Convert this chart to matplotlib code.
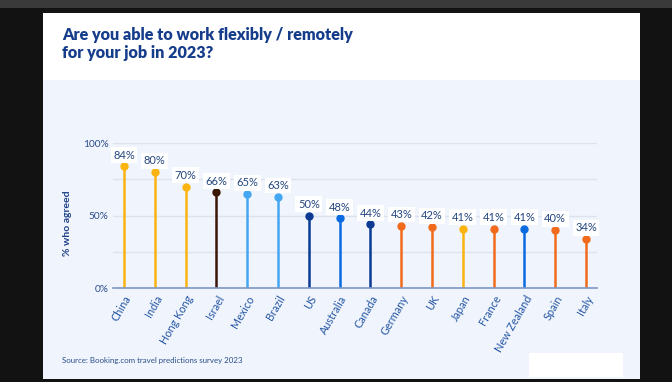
import matplotlib.pyplot as plt
from matplotlib.patches import Rectangle

# Survey share per country (% who agreed)
countries = ["China", "India", "Hong Kong", "Israel", "Mexico", "Brazil", "US",
             "Australia", "Canada", "Germany", "UK", "Japan", "France",
             "New Zealand", "Spain", "Italy"]
agreed = [84, 80, 70, 66, 65, 63, 50, 48, 44, 43, 42, 41, 41, 41, 40, 34]

YELLOW = "#fbb40f"
BROWN = "#3a1606"
LIGHT_BLUE = "#45a7f2"
NAVY = "#0b3a93"
BLUE = "#0a6be0"
ORANGE = "#f26a1b"
stem_colors = [YELLOW, YELLOW, YELLOW, BROWN, LIGHT_BLUE, LIGHT_BLUE, NAVY,
               BLUE, NAVY, ORANGE, ORANGE, YELLOW, ORANGE, BLUE, ORANGE, ORANGE]

y_ticks = [0, 50, 100]
y_tick_labels = ["0%", "50%", "100%"]

plt.rcParams["font.family"] = ["Lato", "DejaVu Sans"]

W, H = 672, 382
fig = plt.figure(figsize=(W / 100, H / 100), dpi=100, facecolor="#121212")


def px_rect(x0, y0, x1, y1, color):
    # rectangle in pixel coords measured from the top-left corner
    fig.patches.append(Rectangle((x0 / W, 1 - y1 / H), (x1 - x0) / W, (y1 - y0) / H,
                                 transform=fig.transFigure, facecolor=color,
                                 edgecolor="none", zorder=-5))


px_rect(0, 0, W, 8, "#3a3a3a")
px_rect(43, 13, 640, 379, "white")
px_rect(43, 80, 640, 379, "#f0f4fc")
px_rect(529, 353, 623, 377, "white")

title_color = "#163d8c"
fig.text(62 / W, 1 - 40 / H, "Are you able to work flexibly / remotely",
         fontsize=11.6, fontweight="heavy", color=title_color, va="baseline")
fig.text(62 / W, 1 - 58 / H, "for your job in 2023?",
         fontsize=11.6, fontweight="heavy", color=title_color, va="baseline")

ax = fig.add_axes([113 / W, 1 - 288 / H, (597 - 113) / W, (288 - 143) / H])
ax.set_zorder(2)
ax.set_facecolor("none")
x = list(range(len(countries)))
ax.set_xlim(-0.357, len(countries) - 1 + 0.357)
ax.set_ylim(0, 100)

for v in [25, 50, 75, 100]:
    ax.axhline(v, color="#dce3ef", lw=1, zorder=1)

for xi, v, c in zip(x, agreed, stem_colors):
    ax.plot([xi, xi], [0, v], color=c, lw=1.8, zorder=2, solid_capstyle="butt")
    ax.plot(xi, v, "o", color=c, ms=5, zorder=3)
    ax.annotate(f"{v}%", (xi, v), xytext=(0, 8), textcoords="offset points",
                ha="center", va="center", fontsize=8, color="#23457f",
                bbox=dict(boxstyle="square,pad=0.22", fc="white", ec="none"),
                annotation_clip=False, zorder=4)

for side in ["top", "right", "left"]:
    ax.spines[side].set_visible(False)
ax.spines["bottom"].set_color("#7d97c4")
ax.spines["bottom"].set_linewidth(1.2)
ax.spines["bottom"].set_zorder(5)

ax.set_yticks(y_ticks, y_tick_labels)
ax.set_xticks(x, countries)
ax.tick_params(axis="both", length=0, colors="#2b4c8c", labelsize=7.3)
ax.tick_params(axis="y", pad=3)
ax.tick_params(axis="x", pad=4, labelsize=7.8)
for lbl in ax.get_xticklabels():
    lbl.set_rotation(60)
    lbl.set_ha("right")
    lbl.set_rotation_mode("anchor")
    lbl.set_color("#2456a4")

fig.text(67 / W, 1 - 223 / H, "% who agreed", rotation=90, fontsize=7.5,
         fontweight="bold", color="#1d3f85", ha="center", va="center")

fig.text(62 / W, 1 - 361 / H, "Source: Booking.com travel predictions survey 2023",
         fontsize=5.7, color="#2a4d8a", va="center")

fig.savefig("out.png", dpi=100, facecolor=fig.get_facecolor())
